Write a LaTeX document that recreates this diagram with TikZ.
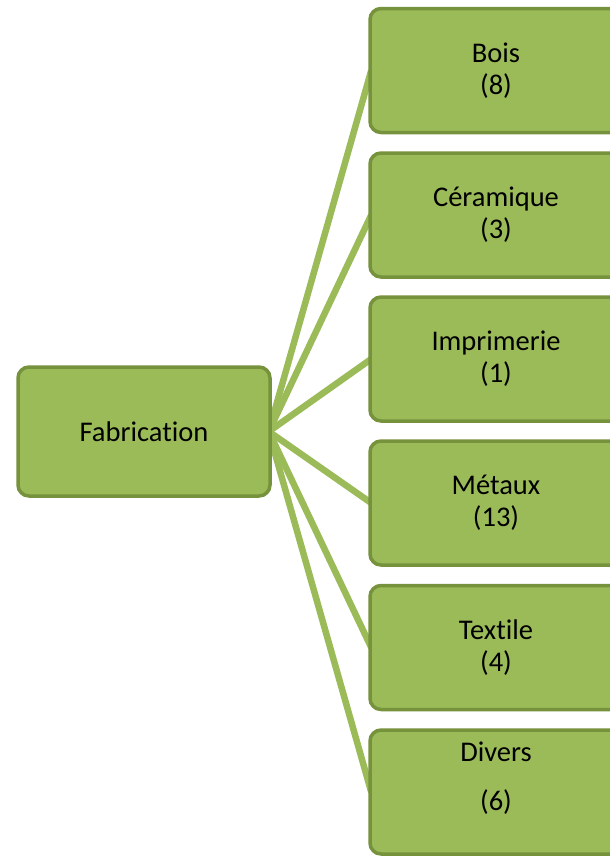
\documentclass[tikz,border=0pt]{standalone}
\usepackage{fontspec}
\setmainfont[Ligatures=NoCommon]{Carlito}
\usetikzlibrary{backgrounds}
\definecolor{boxfill}{HTML}{9BBB59}
\definecolor{boxline}{HTML}{76923C}
\begin{document}
\begin{tikzpicture}[x=1pt,y=-1pt,
  gbox/.style={draw=boxline, fill=boxfill, line width=3.5pt, rounded corners=11pt,
    inner sep=0pt, align=center, font=\fontsize{28.5}{32}\selectfont},
  leaf/.style={gbox, minimum width=252pt, minimum height=124pt},
  conn/.style={draw=boxfill, line width=6.5pt}]
\useasboundingbox (0,0) rectangle (610,857);
\clip (0,0) rectangle (610,857);
\node[gbox, minimum width=252pt, minimum height=129pt] (fab) at (144,431.5) {Fabrication};
\node[leaf] (b1) at (496,70.5) {Bois\\(8)};
\node[leaf] (b2) at (496,215) {Céramique\\(3)};
\node[leaf] (b3) at (496,359) {Imprimerie\\(1)};
\node[leaf] (b4) at (496,503) {Métaux\\(13)};
\node[leaf] (b5) at (496,647.5) {Textile\\(4)};
\node[leaf] (b6) at (496,792) {Divers\\[17pt](6)\\[0pt]~};
\begin{scope}[on background layer]
\foreach \n in {b1,b2,b3,b4,b5,b6}
  \draw[conn] ([xshift=-3pt]fab.east) -- ([xshift=3pt]\n.west);
\end{scope}
\end{tikzpicture}
\end{document}
